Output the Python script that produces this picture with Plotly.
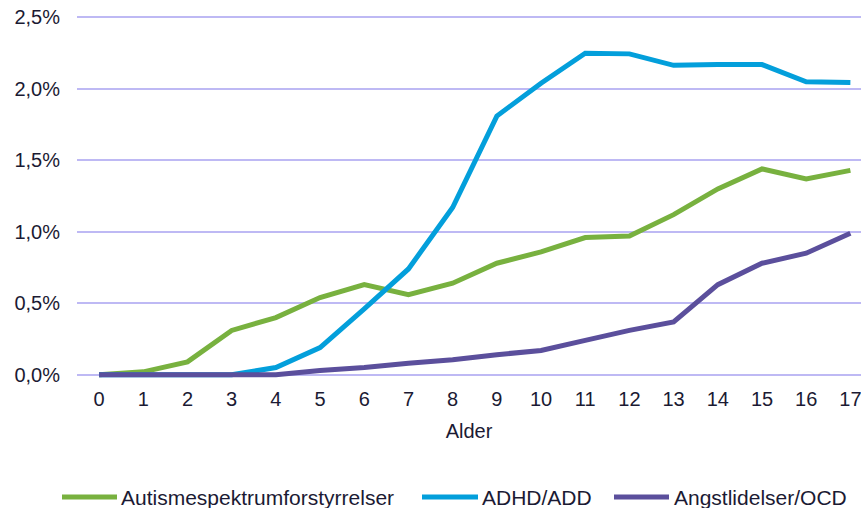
import plotly.graph_objects as go

# Age (years)
alder = list(range(18))

# Share of children with each diagnosis, in percent
autisme = [0.00, 0.02, 0.09, 0.31, 0.40, 0.54, 0.63, 0.56, 0.64, 0.78,
           0.86, 0.96, 0.97, 1.12, 1.30, 1.44, 1.37, 1.43]
adhd = [0.00, 0.00, 0.00, 0.00, 0.05, 0.19, 0.46, 0.74, 1.17, 1.81,
        2.04, 2.25, 2.245, 2.165, 2.17, 2.17, 2.05, 2.045]
angst = [0.00, 0.00, 0.00, 0.00, 0.00, 0.03, 0.05, 0.08, 0.105, 0.14,
         0.17, 0.24, 0.31, 0.37, 0.63, 0.78, 0.85, 0.99]

series_names = ["Autismespektrumforstyrrelser", "ADHD/ADD", "Angstlidelser/OCD"]
series_values = [autisme, adhd, angst]
series_colors = ["#78B13F", "#039FDB", "#5B4F9C"]

y_ticks = [0.0, 0.5, 1.0, 1.5, 2.0, 2.5]

text_color = "#1B1A33"
font_family = "Liberation Sans, Arial, sans-serif"

W, H = 861, 508
M_L, M_R, M_T, M_B = 77, 0, 16, 129
plot_w = W - M_L - M_R
plot_h = H - M_T - M_B


def px_x(px):
    return (px - M_L) / plot_w


def px_y(py):
    return (H - M_B - py) / plot_h


fig = go.Figure()
for name, vals, col in zip(series_names, series_values, series_colors):
    fig.add_trace(go.Scatter(
        x=alder, y=vals, name=name, mode="lines",
        line=dict(color=col, width=5), showlegend=False,
    ))

# Legend row below the chart: a line sample followed by the series name
legend_y = 497
legend_items = [(62, 117, 119), (422, 478, 480), (614, 669, 672)]
for (x0, x1, xt), name, col in zip(legend_items, series_names, series_colors):
    fig.add_shape(type="line", xref="paper", yref="paper",
                  x0=px_x(x0), x1=px_x(x1), y0=px_y(legend_y), y1=px_y(legend_y),
                  line=dict(color=col, width=5))
    fig.add_annotation(xref="paper", yref="paper", x=px_x(xt), y=px_y(legend_y),
                       xanchor="left", yanchor="middle", text=name, showarrow=False,
                       font=dict(size=21, color=text_color, family=font_family))

fig.update_layout(
    width=W, height=H,
    margin=dict(l=M_L, r=M_R, t=M_T, b=M_B),
    paper_bgcolor="white", plot_bgcolor="white",
    font=dict(family=font_family, color=text_color, size=20),
    showlegend=False,
)

fig.update_xaxes(
    range=[-0.5, 17.24],
    tickmode="array", tickvals=alder, ticktext=[str(a) for a in alder],
    showgrid=False, zeroline=False, showline=False, ticks="",
    tickfont=dict(size=20, color=text_color),
    ticklabelstandoff=6, ticklabeloverflow="allow",
    title=dict(text="Alder", font=dict(size=20, color=text_color), standoff=14),
)

fig.update_yaxes(
    range=[-0.03, 2.51],
    tickmode="array", tickvals=y_ticks,
    ticktext=[f"{v:.1f}%".replace(".", ",") for v in y_ticks],
    showgrid=True, gridcolor="#BEB9F4", gridwidth=2,
    zeroline=False, showline=False, ticks="",
    tickfont=dict(size=20, color=text_color),
    ticklabelstandoff=16,
)

fig.write_html("out.html")
